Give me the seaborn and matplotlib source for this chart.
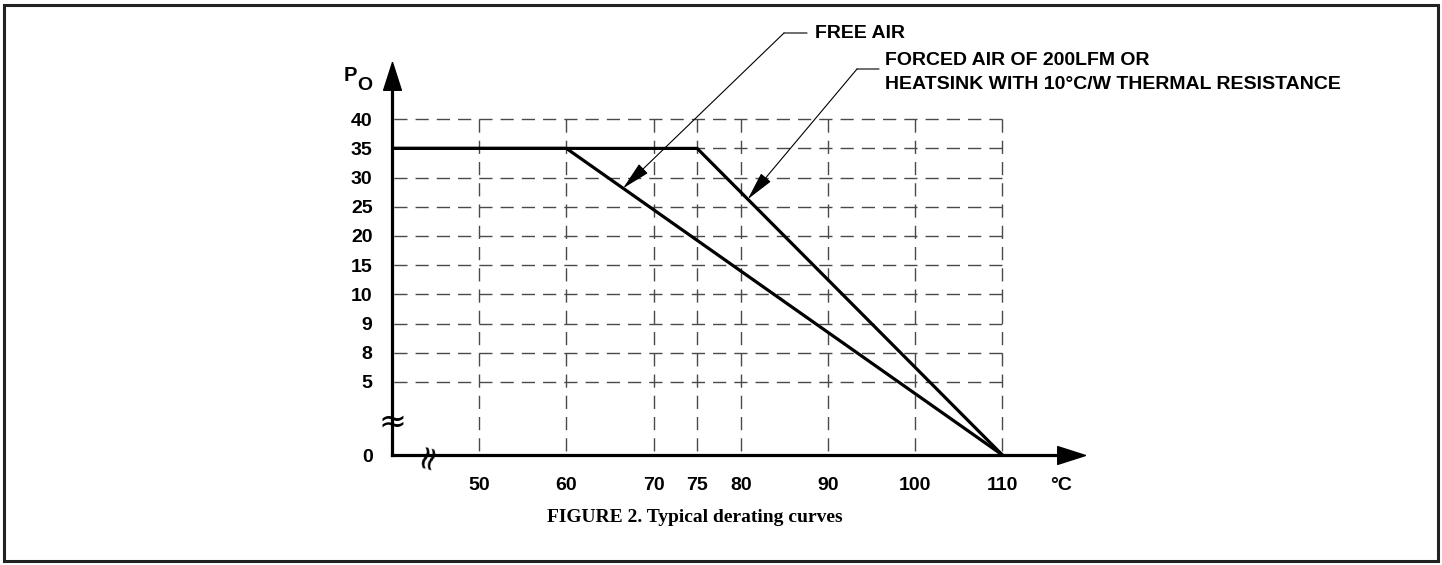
import numpy as np
import pandas as pd
import seaborn as sns
import matplotlib.pyplot as plt
from matplotlib.patches import Rectangle

# y axis is not linear: the ticks sit at equal steps, with a break between 0 and 5
y_ticks = [0, 5, 8, 9, 10, 15, 20, 25, 30, 35, 40]
y_pos = [0, 2.5, 3.5, 4.5, 5.5, 6.5, 7.5, 8.5, 9.5, 10.5, 11.5]
x_ticks = [50, 60, 70, 75, 80, 90, 100, 110]

free_temp = [40, 60, 110]
free_power = [35, 35, 0]
forced_temp = [40, 75, 110]
forced_power = [35, 35, 0]

free_label = 'FREE AIR'
forced_label = 'FORCED AIR OF 200LFM OR\nHEATSINK WITH 10°C/W THERMAL RESISTANCE'


def to_pos(v):
    return np.interp(v, y_ticks, y_pos)


df = pd.concat([
    pd.DataFrame({'temp': free_temp, 'power': free_power, 'curve': 'free'}),
    pd.DataFrame({'temp': forced_temp, 'power': forced_power, 'curve': 'forced'}),
])
df['pos'] = to_pos(df['power'])

sns.set_style('white', {'text.color': 'black', 'axes.labelcolor': 'black',
                        'xtick.color': 'black', 'ytick.color': 'black'})
plt.rcParams['font.family'] = ['Liberation Sans', 'DejaVu Sans']
plt.rcParams['font.weight'] = 'bold'

FS = 14
W, H = 1442, 565
fig = plt.figure(figsize=(W / 100, H / 100), dpi=100)

# axes box in pixels: y axis at x=392, x axis at y=455, arrow tips at 1085 / 62
px_per_deg = 8.72
px_per_step = 29.2
x0, y0, x1, y1 = 392, 455, 1085, 62
ax = fig.add_axes([x0 / W, (H - y0) / H, (x1 - x0) / W, (y0 - y1) / H])
xmax = 40 + (x1 - x0) / px_per_deg
ymax = (y0 - y1) / px_per_step
ax.set_xlim(40, xmax)
ax.set_ylim(0, ymax)

grid_kw = dict(color='#4a4a4a', lw=1.0, linestyles=[(0, (9.5, 5.8))], zorder=1)
ax.hlines(y_pos[1:], 110, 40, **grid_kw)
ax.vlines(x_ticks, y_pos[-1], 0, **grid_kw)

sns.lineplot(data=df, x='temp', y='pos', units='curve', estimator=None,
             sort=False, color='black', lw=2.3, ax=ax, zorder=3)

sns.despine(ax=ax)
for s in ['left', 'bottom']:
    ax.spines[s].set_linewidth(2.3)
    ax.spines[s].set_color('black')
ax.spines['left'].set_bounds(0, ymax - 0.8)
ax.spines['bottom'].set_bounds(40, xmax - 2.5)

# arrow heads on the axes
up = [(0, 0), (-0.32, -1), (0.32, -1), (0, 0)]
right = [(0, 0), (-1, 0.32), (-1, -0.32), (0, 0)]
ax.plot([40], [ymax], marker=up, markersize=40, color='black', clip_on=False)
ax.plot([xmax], [0], marker=right, markersize=40, color='black', clip_on=False)

ax.set_yticks(y_pos)
ax.set_yticklabels(y_ticks)
ax.set_xticks(x_ticks)
ax.set_xticklabels(x_ticks)
ax.tick_params(axis='y', length=10.5, width=2, pad=3.5, labelsize=FS,
               color='black', labelcolor='black')
ax.tick_params(axis='x', length=10, width=2, pad=6, labelsize=FS,
               color='black', labelcolor='black')
ax.set_xlabel('')
ax.set_ylabel('')

# axis break marks
ax.text(40, 1.13, '≈', ha='center', va='center', fontsize=24,
        family='DejaVu Sans', fontweight='normal', clip_on=False)
ax.text(44, 0, '≈', ha='center', va='center', fontsize=24, rotation=75,
        family='DejaVu Sans', fontweight='normal', clip_on=False)

fig.text(350 / W, 1 - 76 / H, 'P', fontsize=FS + 0.5, ha='center', va='center')
fig.text(365 / W, 1 - 86 / H, 'O', fontsize=FS, ha='center', va='center')
fig.text(1061 / W, 1 - 486 / H, '°C', fontsize=FS, ha='center', va='center')

# leader arrows to the curves
arrow_kw = dict(arrowstyle='-|>,head_length=1.8,head_width=0.4', lw=0.8,
                color='black', shrinkA=0, shrinkB=0, mutation_scale=10)
line_kw = dict(arrowstyle='-', lw=0.8, color='black', shrinkA=0, shrinkB=0)

free_tip = 66.5
ax.annotate('', xy=(free_tip, np.interp(free_tip, free_temp, to_pos(free_power))),
            xytext=(784, H - 33), textcoords='figure pixels',
            arrowprops=arrow_kw, annotation_clip=False)
ax.annotate('', xy=(807, H - 33), xycoords='figure pixels',
            xytext=(784, H - 33), textcoords='figure pixels', arrowprops=line_kw)
fig.text(815 / W, 1 - 33 / H, free_label, fontsize=FS, va='center')

forced_tip = 80.8
ax.annotate('', xy=(forced_tip, np.interp(forced_tip, forced_temp, to_pos(forced_power))),
            xytext=(857, H - 69), textcoords='figure pixels',
            arrowprops=arrow_kw, annotation_clip=False)
ax.annotate('', xy=(879, H - 69), xycoords='figure pixels',
            xytext=(857, H - 69), textcoords='figure pixels', arrowprops=line_kw)
fig.text(885 / W, 1 - 72.5 / H, forced_label, fontsize=FS, va='center',
         linespacing=1.6)

fig.text(695 / W, 1 - 518 / H, 'FIGURE 2. Typical derating curves',
         family=['Liberation Serif', 'DejaVu Serif'], fontsize=FS,
         ha='center', va='center')

fig.add_artist(Rectangle((4 / W, 4 / H), (W - 8) / W, (H - 9) / H,
                         transform=fig.transFigure, fill=False,
                         edgecolor='#222222', lw=2.2))

fig.savefig('out.png', dpi=100)
